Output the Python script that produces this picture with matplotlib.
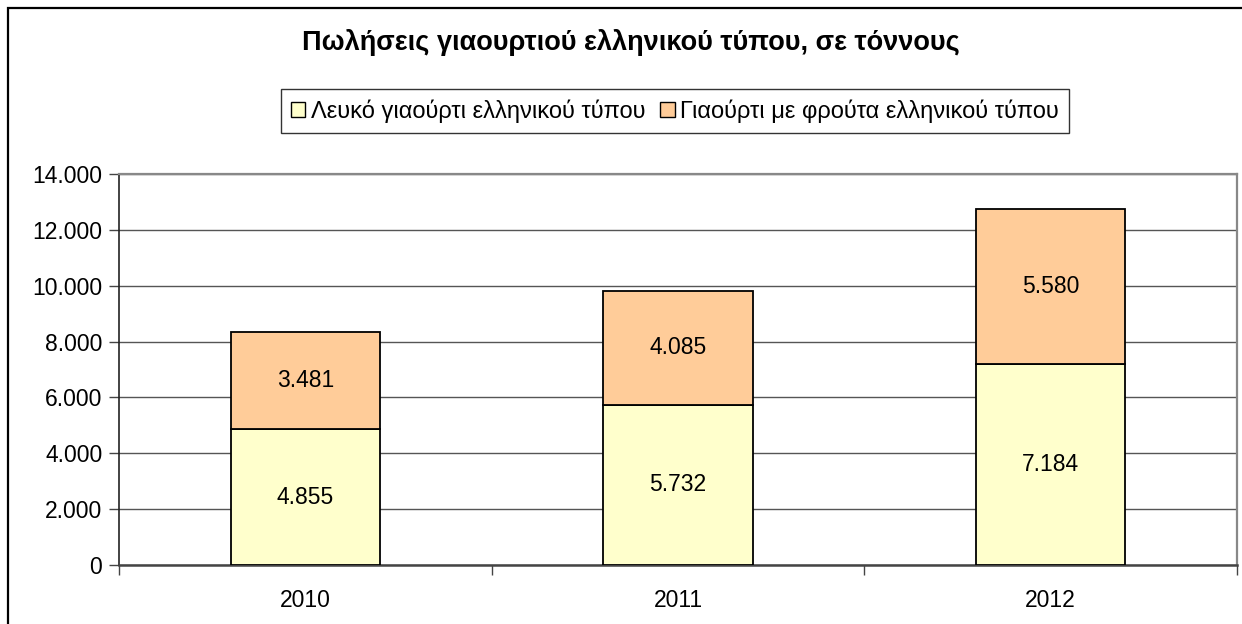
import matplotlib
matplotlib.use("Agg")
import matplotlib.pyplot as plt
from matplotlib.patches import Rectangle, Patch
from matplotlib.ticker import FuncFormatter, FixedLocator
import numpy as np

plt.rcParams['font.family'] = ['Liberation Sans', 'DejaVu Sans']

years = ["2010", "2011", "2012"]
plain = [4855, 5732, 7184]
fruit = [3481, 4085, 5580]
series_names = ["Λευκό γιαούρτι ελληνικού τύπου", "Γιαούρτι με φρούτα ελληνικού τύπου"]
title = "Πωλήσεις γιαουρτιού ελληνικού τύπου, σε τόννους"
yticks = [0, 2000, 4000, 6000, 8000, 10000, 12000, 14000]

c_plain = "#FFFFCC"
c_fruit = "#FFCC99"

W, H = 1242, 624
fig = plt.figure(figsize=(W / 100, H / 100), dpi=100)
fig.patch.set_facecolor("white")

# outer chart border (right/bottom edges fall outside the image)
fig.add_artist(Rectangle((8 / W, -0.05), 1.1, (H - 8) / H + 0.05,
                         transform=fig.transFigure, fill=False, edgecolor="black", lw=1.6))

left, right, top, bottom = 119, 1237, 174, 565
ax = fig.add_axes([left / W, 1 - bottom / H, (right - left) / W, (bottom - top) / H])

x = np.arange(len(years))
ax.bar(x, plain, width=0.4, color=c_plain, edgecolor="black", lw=1.3, zorder=3,
       label=series_names[0])
ax.bar(x, fruit, width=0.4, bottom=plain, color=c_fruit, edgecolor="black", lw=1.3,
       zorder=3, label=series_names[1])

fs = 16.5
for i in range(len(years)):
    ax.text(x[i], plain[i] / 2, f"{plain[i]:,}".replace(",", "."), ha="center", va="center",
            fontsize=fs, zorder=4)
    ax.text(x[i], plain[i] + fruit[i] / 2, f"{fruit[i]:,}".replace(",", "."), ha="center",
            va="center", fontsize=fs, zorder=4)

ax.set_xlim(-0.5, len(years) - 0.5)
ax.set_ylim(0, 14000)
ax.set_yticks(yticks)
ax.yaxis.set_major_formatter(FuncFormatter(lambda v, p: f"{int(v):,}".replace(",", ".")))
ax.grid(axis="y", color="#555555", lw=1.0, zorder=0)
ax.set_axisbelow(True)

ax.set_xticks(x)
ax.set_xticklabels(years)
ax.xaxis.set_minor_locator(FixedLocator([-0.5, 0.5, 1.5, 2.5]))
ax.tick_params(axis="x", which="major", length=0, pad=17, labelsize=fs)
ax.tick_params(axis="x", which="minor", length=7, width=1, color="#444444", direction="out")
ax.tick_params(axis="y", length=7, width=1, color="#444444", direction="out", labelsize=fs, pad=5)

ax.spines["left"].set_color("#222222")
ax.spines["left"].set_linewidth(1.2)
ax.spines["bottom"].set_color("#444444")
ax.spines["bottom"].set_linewidth(1.8)
ax.spines["top"].set_color("#888888")
ax.spines["top"].set_linewidth(1.6)
ax.spines["right"].set_color("#888888")
ax.spines["right"].set_linewidth(1.6)

fig.text(631 / W, 1 - 42 / H, title, ha="center", va="center", fontsize=19.5, fontweight="bold")

handles = [Patch(facecolor=c_plain, edgecolor="black", lw=1.0),
           Patch(facecolor=c_fruit, edgecolor="black", lw=1.0)]
leg = fig.legend(handles, series_names, loc="center", bbox_to_anchor=(675 / W, 1 - 111 / H),
                 ncol=2, fontsize=17, frameon=True, fancybox=False, handlelength=0.62,
                 handleheight=0.62, handletextpad=0.25, columnspacing=0.6, borderpad=0.42,
                 borderaxespad=0)
leg.get_frame().set_edgecolor("black")
leg.get_frame().set_linewidth(1.0)

fig.savefig("out.png", dpi=100)
